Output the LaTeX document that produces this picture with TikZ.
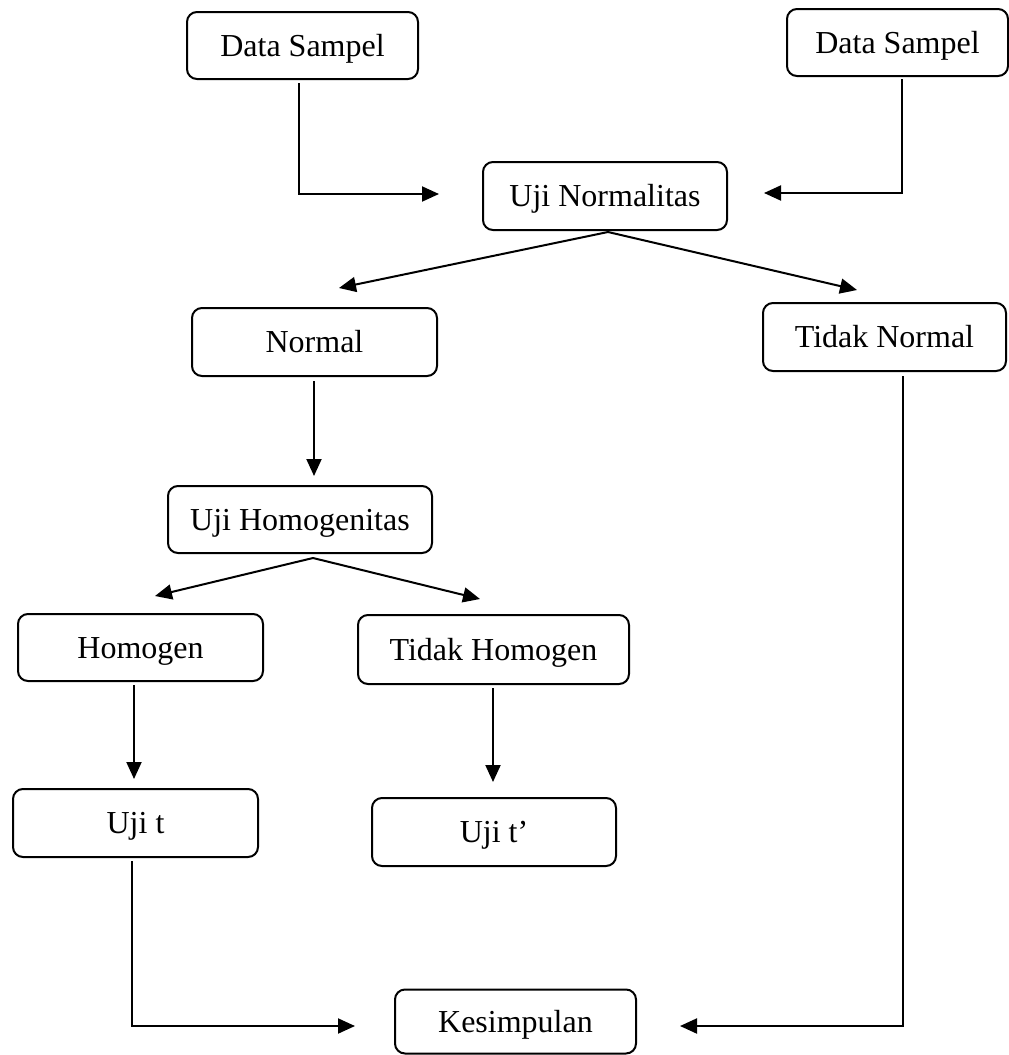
\documentclass[tikz,border=0pt]{standalone}
\usepackage{fontspec}
\setmainfont{Liberation Serif}
\usetikzlibrary{arrows.meta}
\begin{document}
\begin{tikzpicture}[x=1pt,y=-1pt,
  box/.style={draw, line width=2pt, rounded corners=10pt, inner sep=0pt,
    font=\fontsize{32}{38}\selectfont, text height=21pt, text depth=0pt},
  conn/.style={line width=2pt, -{Triangle[length=17pt,width=15pt]}}]
\useasboundingbox (0,0) rectangle (1009,1055);
\node[box, minimum width=231pt, minimum height=67pt] (ds1) at (302.5,45.5) {Data Sampel};
\node[box, minimum width=221pt, minimum height=67pt] (ds2) at (897.5,42.5) {Data Sampel};
\node[box, minimum width=244pt, minimum height=68pt] (un) at (605,196) {Uji Normalitas};
\node[box, minimum width=245pt, minimum height=68pt] (nor) at (314.5,342) {Normal};
\node[box, minimum width=243pt, minimum height=68pt] (tn) at (884.5,337) {Tidak Normal};
\node[box, minimum width=264pt, minimum height=67pt] (uh) at (300,519.5) {Uji Homogenitas};
\node[box, minimum width=245pt, minimum height=67pt] (hom) at (140.5,647.5) {Homogen};
\node[box, minimum width=271pt, minimum height=69pt] (th) at (493.5,649.5) {Tidak Homogen};
\node[box, minimum width=245pt, minimum height=68pt] (ujt) at (135.5,823) {Uji t};
\node[box, minimum width=244pt, minimum height=68pt] (ujt2) at (494,832) {Uji t’};
\node[box, minimum width=241pt, minimum height=64pt] (kes) at (515.5,1021.5) {Kesimpulan};
% free ends
\coordinate (a1) at (439,194);
\coordinate (a2) at (764,193);
\coordinate (a3) at (339,288);
\coordinate (a4) at (857,290);
\coordinate (a5) at (314,476);
\coordinate (a6) at (155,596);
\coordinate (a7) at (480,599);
\coordinate (a8) at (134,779);
\coordinate (a9) at (493,782);
\coordinate (a10) at (355,1026);
\coordinate (a11) at (680,1026);
\draw[conn] ([xshift=-3.5pt,yshift=-3pt]ds1.south) |- (a1);
\draw[conn] ([xshift=4.5pt,yshift=-2pt]ds2.south) |- (a2);
\draw[conn] ([xshift=3pt,yshift=-1pt]un.south) -- (a3);
\draw[conn] ([xshift=3pt,yshift=-1pt]un.south) -- (a4);
\draw[conn] ([xshift=-0.5pt,yshift=-4pt]nor.south) -- (a5);
\draw[conn] ([xshift=13pt,yshift=-4pt]uh.south) -- (a6);
\draw[conn] ([xshift=13pt,yshift=-4pt]uh.south) -- (a7);
\draw[conn] ([xshift=-6.5pt,yshift=-3pt]hom.south) -- (a8);
\draw[conn] ([xshift=-0.5pt,yshift=-3pt]th.south) -- (a9);
\draw[conn] ([xshift=-3.5pt,yshift=-3pt]ujt.south) |- (a10);
\draw[conn] ([xshift=18.5pt,yshift=-4pt]tn.south) |- (a11);
\end{tikzpicture}
\end{document}
